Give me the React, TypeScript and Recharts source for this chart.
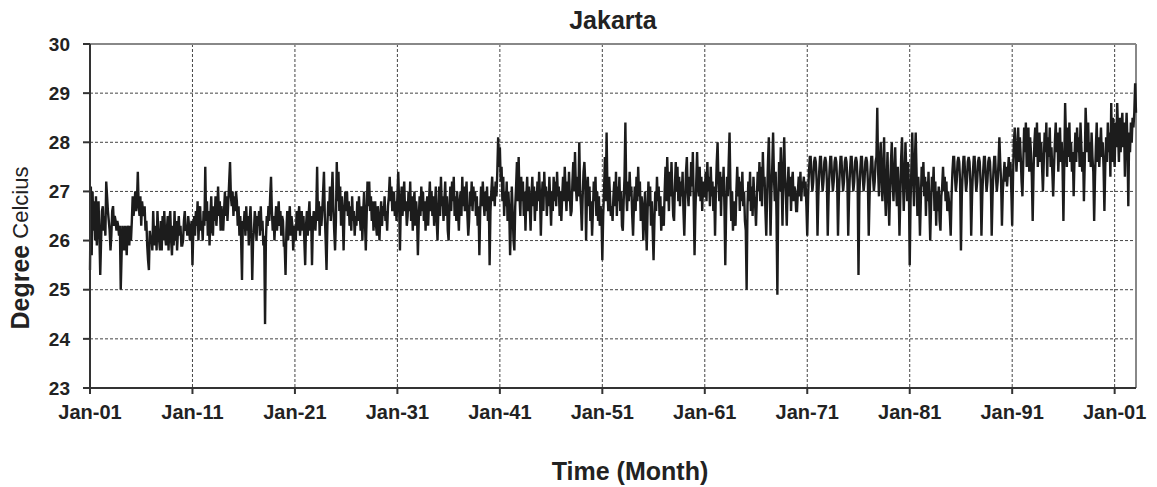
import React from 'react';
import {
  LineChart,
  Line,
  XAxis,
  YAxis,
  CartesianGrid,
  ReferenceLine,
  Label,
} from 'recharts';

// Monthly mean temperature, Jakarta (deg C), one row per year
const temps1901s = [
  25.4, 27.1, 25.7, 27.0, 26.2, 26.8, 26.0, 26.9, 25.9, 26.5, 26.8, 26.1,
  25.3, 26.0, 26.6, 26.7, 26.2, 26.5, 26.1, 27.2, 26.9, 26.6, 26.4, 26.2,
  25.8, 26.1, 26.6, 26.7, 26.3, 26.5, 26.4, 26.2, 26.4, 26.3, 26.1, 26.3,
  25.0, 25.7, 26.3, 26.0, 25.8, 26.3, 26.1, 25.7, 26.3, 26.2, 25.9, 26.3,
  26.0, 26.4, 26.9, 26.5, 26.7, 27.0, 26.6, 26.8, 27.4, 26.7, 26.5, 26.9,
  26.3, 26.8, 26.6, 26.5, 26.7, 26.2, 26.4, 25.9, 25.6, 25.4, 26.2, 26.0,
  26.1, 25.8, 26.6, 26.1, 25.9, 26.3, 25.8, 26.6, 26.2, 26.0, 25.8, 26.4,
  25.8, 26.5, 26.0, 26.6, 26.1, 25.9, 26.2, 26.5, 25.8, 26.4, 26.6, 26.0,
  25.7, 26.3, 25.9, 26.6, 26.0, 26.4, 25.8, 26.2, 26.5, 26.1, 26.3, 25.9,
  25.9, 26.0, 26.4, 26.6, 26.2, 26.3, 26.1, 26.5, 26.3, 26.0, 26.2, 26.4,
];

const temps1911s = [
  25.5, 26.2, 26.5, 26.1, 26.6, 26.3, 26.8, 26.0, 26.5, 26.7, 26.2, 26.4,
  26.0, 26.6, 26.3, 27.5, 26.4, 26.8, 26.1, 26.6, 25.9, 26.5, 26.9, 26.2,
  26.1, 26.7, 26.4, 26.9, 26.3, 26.6, 27.1, 26.5, 26.8, 26.2, 26.7, 26.4,
  26.2, 26.6, 27.0, 26.5, 26.9, 26.4, 26.8, 27.2, 27.6, 26.9, 26.7, 27.0,
  26.5, 26.9, 26.6, 27.0, 26.8, 26.3, 26.7, 26.1, 26.5, 26.0, 25.2, 26.4,
  26.3, 26.6, 26.1, 26.7, 26.2, 26.5, 25.9, 26.4, 26.7, 26.2, 25.2, 26.0,
  26.2, 26.6, 26.4, 26.0, 26.5, 26.3, 26.6, 26.1, 26.7, 26.2, 26.4, 25.9,
  26.1, 24.3, 26.0, 26.5, 26.3, 26.7, 26.4, 26.9, 27.3, 26.6, 26.2, 26.5,
  26.0, 26.4, 26.7, 26.2, 26.5, 26.8, 26.3, 26.6, 26.1, 26.5, 26.4, 25.9,
  25.9, 25.3, 26.2, 26.6, 26.0, 26.4, 26.7, 26.1, 26.5, 26.3, 25.8, 26.2,
];

const temps1921s = [
  26.3, 26.0, 26.6, 26.2, 26.5, 26.7, 26.1, 26.4, 26.6, 26.2, 26.5, 26.0,
  25.5, 26.3, 26.6, 26.1, 26.5, 26.8, 26.2, 26.5, 25.5, 26.3, 26.6, 26.4,
  26.2, 26.6, 27.5, 26.4, 26.8, 26.1, 26.7, 26.3, 26.6, 27.0, 27.4, 26.5,
  26.0, 25.4, 26.3, 26.8, 26.5, 27.1, 26.4, 26.9, 27.4, 26.7, 26.2, 25.8,
  26.4, 27.6, 26.8, 27.4, 26.6, 27.1, 26.3, 26.9, 26.5, 25.8, 26.6, 27.0,
  26.6, 27.0, 26.5, 26.8, 26.3, 26.7, 26.2, 26.9, 26.4, 26.6, 26.1, 26.5,
  26.3, 26.8, 26.4, 26.9, 26.5, 26.2, 26.7, 26.0, 26.6, 27.0, 26.4, 25.8,
  26.5, 27.2, 26.7, 27.2, 26.6, 26.9, 26.4, 26.8, 26.2, 26.6, 26.8, 26.3,
  26.1, 26.7, 26.4, 26.0, 26.5, 26.8, 26.3, 26.7, 26.5, 26.9, 26.4, 26.6,
  26.2, 26.7, 26.9, 27.3, 26.8, 27.1, 26.6, 26.9, 27.0, 26.5, 26.8, 26.4,
];

const temps1931s = [
  26.9, 27.4, 26.8, 25.8, 26.7, 27.1, 26.5, 26.9, 27.2, 26.6, 26.8, 26.3,
  26.5, 27.0, 26.6, 27.2, 26.4, 26.9, 26.2, 26.7, 27.0, 26.3, 26.8, 26.5,
  25.7, 26.4, 26.9, 26.5, 27.1, 26.6, 27.0, 26.4, 26.8, 26.2, 26.7, 26.9,
  26.3, 26.8, 27.2, 26.6, 27.0, 26.5, 26.9, 26.3, 26.7, 27.1, 26.4, 26.0,
  26.6, 27.1, 26.5, 27.3, 26.7, 26.9, 26.4, 26.8, 27.2, 26.5, 26.9, 26.2,
  26.0, 26.7, 27.1, 26.6, 27.2, 26.8, 27.3, 26.5, 26.9, 26.4, 27.0, 26.6,
  26.2, 26.8, 27.0, 26.5, 27.3, 26.7, 27.1, 26.6, 26.9, 27.2, 26.5, 26.1,
  26.4, 27.0, 26.7, 27.2, 26.6, 27.1, 26.8, 27.0, 26.5, 26.9, 26.3, 26.7,
  25.7, 26.6, 27.1, 26.7, 27.2, 26.8, 26.5, 27.0, 26.6, 27.1, 26.4, 26.9,
  25.5, 26.6, 27.0, 27.3, 26.8, 27.1, 26.7, 27.2, 26.9, 27.4, 28.1, 27.5,
];

const temps1941s = [
  27.9, 27.2, 27.5, 26.8, 27.3, 26.5, 27.0, 26.7, 27.2, 26.4, 27.0, 26.6,
  25.7, 26.4, 27.1, 26.6, 26.0, 25.8, 26.7, 27.1, 27.6, 26.8, 27.7, 26.9,
  26.5, 27.3, 26.8, 27.2, 26.5, 27.0, 26.2, 26.9, 27.3, 26.6, 27.1, 26.7,
  26.2, 26.9, 27.3, 26.7, 27.1, 26.4, 27.0, 26.6, 27.2, 26.8, 27.4, 26.9,
  26.1, 26.8, 27.2, 26.6, 27.4, 26.9, 27.1, 26.5, 27.0, 26.7, 27.3, 26.8,
  26.3, 27.0, 26.6, 27.3, 26.8, 27.2, 26.7, 27.4, 26.9, 27.1, 26.5, 27.0,
  26.4, 26.9, 27.3, 26.8, 27.5, 27.0, 26.6, 27.2, 26.8, 27.4, 26.9, 26.5,
  26.6, 27.2, 27.6, 27.0, 27.8, 27.1, 26.8, 27.3, 26.9, 28.0, 27.0, 26.7,
  26.2, 26.9, 27.4, 27.6, 27.2, 26.0, 26.9, 27.3, 26.7, 27.1, 26.4, 26.8,
  26.1, 26.6, 27.2, 26.8, 27.3, 26.5, 27.0, 26.4, 26.9, 26.3, 26.7, 26.5,
];

const temps1951s = [
  25.6, 26.5, 27.0, 27.7, 26.8, 28.2, 27.0, 26.6, 27.3, 26.9, 26.5, 26.7,
  26.4, 26.9, 27.2, 26.7, 27.4, 26.5, 27.1, 26.8, 27.3, 26.6, 27.0, 26.3,
  26.2, 26.8, 27.3, 28.4, 27.0, 26.6, 27.2, 26.8, 27.4, 26.9, 27.1, 26.5,
  26.1, 26.7, 27.1, 26.6, 27.3, 26.8, 27.5, 26.9, 27.2, 26.4, 26.9, 26.7,
  26.0, 26.5, 27.0, 26.4, 25.8, 26.6, 27.2, 26.7, 27.1, 26.3, 26.8, 26.2,
  25.6, 26.4, 27.0, 26.6, 27.3, 26.8, 27.1, 26.5, 26.9, 26.2, 26.7, 26.4,
  26.3, 27.0, 27.5, 26.8, 27.7, 27.1, 26.6, 27.4, 26.9, 27.6, 27.0, 26.5,
  26.4, 27.1, 27.6, 27.0, 27.5, 26.8, 27.3, 26.7, 27.2, 26.9, 27.4, 26.6,
  26.1, 26.8, 27.4, 27.7, 27.0, 26.7, 27.3, 26.9, 27.6, 27.1, 27.8, 26.8,
  25.7, 26.6, 27.2, 27.8, 27.1, 26.9, 27.5, 26.8, 27.3, 26.6, 27.2, 26.9,
];

const temps1961s = [
  26.9, 27.4, 26.8, 27.6, 27.0, 27.3, 26.7, 27.5, 26.9, 27.2, 26.6, 27.1,
  26.1, 27.0, 27.6, 28.0, 27.2, 26.8, 27.4, 26.5, 27.3, 26.9, 27.5, 26.7,
  25.5, 26.6, 27.3, 26.9, 27.6, 28.2, 27.1, 26.4, 27.0, 26.2, 26.8, 26.5,
  26.3, 27.0, 27.5, 26.9, 27.3, 26.6, 27.2, 26.8, 27.4, 26.7, 27.0, 26.4,
  26.2, 25.0, 26.7, 27.2, 26.8, 27.4, 26.6, 27.1, 26.5, 27.3, 26.9, 26.7,
  26.3, 26.9, 27.4, 27.0, 27.6, 26.8, 27.5, 26.7, 27.8, 27.1, 27.3, 26.6,
  26.1, 26.9, 27.6, 28.1, 27.2, 26.1, 27.0, 27.5, 28.2, 27.3, 26.8, 27.4,
  26.5, 24.9, 26.8, 27.6, 27.0, 27.9, 27.2, 26.3, 27.4, 28.1, 27.3, 26.9,
  26.3, 27.1, 27.5, 26.9, 27.3, 26.6, 27.2, 27.4, 26.8, 27.1, 27.0, 26.6,
  26.6, 27.0, 27.3, 26.9, 27.4, 26.8, 27.2, 27.1, 27.3, 26.9, 27.2, 26.7,
];

const temps1971s = [
  26.1, 26.9, 27.4, 27.7, 27.7, 27.3, 27.0, 27.2, 27.6, 27.7, 27.6, 27.2,
  26.1, 26.9, 27.4, 27.7, 27.7, 27.3, 27.0, 27.2, 27.6, 27.7, 27.6, 27.2,
  26.1, 26.9, 27.4, 27.7, 27.7, 27.3, 27.0, 27.2, 27.6, 27.7, 27.6, 27.2,
  26.1, 26.9, 27.4, 27.7, 27.7, 27.3, 27.0, 27.2, 27.6, 27.7, 27.6, 27.2,
  26.1, 26.9, 27.4, 27.7, 27.7, 27.3, 27.0, 27.2, 27.6, 27.7, 27.6, 27.2,
  25.3, 26.9, 27.4, 27.7, 27.7, 27.3, 27.0, 27.2, 27.6, 27.7, 27.6, 27.2,
  26.1, 26.9, 27.4, 27.7, 27.7, 27.3, 27.0, 27.2, 27.6, 27.7, 28.7, 27.4,
  26.9, 27.6, 28.0, 27.3, 26.8, 27.5, 28.1, 27.0, 26.5, 27.2, 27.8, 26.9,
  26.3, 27.0, 27.6, 28.0, 27.2, 26.8, 27.4, 27.9, 27.1, 26.7, 27.5, 27.0,
  26.1, 26.9, 27.7, 28.1, 27.3, 26.6, 27.2, 28.0, 27.4, 26.8, 27.6, 27.1,
];

const temps1981s = [
  25.5, 26.8, 27.5, 28.2, 27.3, 26.7, 27.6, 28.2, 27.4, 26.5, 27.3, 26.9,
  26.1, 26.8, 27.5, 27.1, 27.6, 26.9, 27.3, 26.5, 27.2, 26.8, 27.4, 26.7,
  26.0, 26.7, 27.3, 27.0, 27.5, 26.6, 27.2, 26.3, 27.0, 26.6, 27.1, 26.4,
  26.2, 26.9, 27.1, 27.5, 27.0, 27.3, 26.8, 27.2, 26.6, 27.0, 26.8, 26.5,
  26.1, 26.9, 27.4, 27.7, 27.7, 27.3, 27.0, 27.2, 27.6, 27.7, 27.6, 27.2,
  25.8, 26.9, 27.4, 27.7, 27.7, 27.3, 27.0, 27.2, 27.6, 27.7, 27.6, 27.2,
  26.1, 26.9, 27.4, 27.7, 27.7, 27.3, 27.0, 27.2, 27.6, 27.7, 27.6, 27.2,
  26.1, 26.9, 27.4, 27.7, 27.7, 27.3, 27.0, 27.2, 27.6, 27.7, 27.6, 27.2,
  26.1, 26.9, 27.4, 27.7, 27.7, 27.3, 27.0, 27.2, 27.6, 28.1, 27.6, 27.2,
  26.3, 27.0, 27.3, 27.6, 27.2, 27.5, 27.1, 27.4, 27.7, 27.3, 27.6, 27.0,
];

const temps1991s = [
  26.3, 27.3, 28.0, 28.3, 27.9, 27.4, 27.8, 28.3, 27.6, 28.1, 27.7, 27.2,
  26.9, 27.6, 28.3, 27.8, 28.4, 27.5, 27.9, 28.3, 27.4, 28.1, 27.8, 27.3,
  26.4, 27.4, 28.0, 28.3, 27.7, 28.4, 27.5, 27.9, 28.2, 27.6, 28.0, 27.5,
  27.0, 27.6, 28.2, 27.8, 28.4, 27.3, 28.1, 27.7, 28.3, 27.5, 27.9, 27.4,
  26.9, 27.5, 28.0, 28.4, 27.8, 28.2, 27.4, 27.9, 28.3, 27.6, 28.0, 27.5,
  26.4, 27.6, 28.8, 28.1, 27.5, 28.3, 27.7, 28.4, 27.6, 28.0, 27.4, 27.8,
  26.9, 27.7, 28.2, 27.6, 28.3, 27.8, 28.1, 27.5, 28.4, 27.9, 27.4, 27.8,
  26.8, 27.6, 28.7, 28.2, 27.8, 28.4, 27.6, 28.0, 27.5, 28.2, 27.7, 27.4,
  26.4, 27.3, 27.9, 28.4, 27.6, 28.1, 27.5, 27.9, 28.3, 27.7, 28.0, 27.5,
  26.6, 27.5, 28.1, 27.6, 28.4, 27.8, 28.2, 27.3, 28.8, 27.6, 28.5, 27.9,
];

const temps2001s = [
  27.5, 28.4, 27.9, 28.8, 28.2, 27.6, 28.5, 27.8, 28.3, 28.6, 27.9, 28.4,
  27.3, 28.1, 28.6, 28.0, 26.7, 28.2, 27.8, 28.4, 28.0, 28.5, 28.3, 28.6,
  29.2, 28.6,
];

const xTicks = [0, 120, 240, 360, 480, 600, 720, 840, 960, 1080, 1200];
const xTickLabels = [
  'Jan-01', 'Jan-11', 'Jan-21', 'Jan-31', 'Jan-41', 'Jan-51',
  'Jan-61', 'Jan-71', 'Jan-81', 'Jan-91', 'Jan-01',
];
const yTicks = [23, 24, 25, 26, 27, 28, 29, 30];

const allTemps = [
  ...temps1901s, ...temps1911s, ...temps1921s, ...temps1931s, ...temps1941s,
  ...temps1951s, ...temps1961s, ...temps1971s, ...temps1981s, ...temps1991s,
  ...temps2001s,
];
const data = allTemps.map((t, i) => ({ month: i, temp: t }));
const lastMonth = allTemps.length - 1;

const FONT = '"Liberation Sans", Arial, sans-serif';

function YTitle() {
  const cx = 20;
  const cy = 248;
  return (
    <text
      x={cx}
      y={cy}
      transform={`rotate(-90, ${cx}, ${cy})`}
      textAnchor="middle"
      dominantBaseline="central"
      fill="#222"
      fontFamily={FONT}
    >
      <tspan fontWeight="bold" fontSize={25}>Degree</tspan>
      <tspan fontSize={22}> Celcius</tspan>
    </text>
  );
}

function XTitle() {
  return (
    <text x={630} y={471} textAnchor="middle" dominantBaseline="central"
      fill="#222" fontFamily={FONT} fontWeight="bold" fontSize={25}>
      Time (Month)
    </text>
  );
}

export default function App() {
  return (
    <div style={{ position: 'absolute', left: 0, top: 0, width: 1157, height: 487, background: '#fff' }}>
      <div style={{
        position: 'absolute', left: 90, width: 1046, top: 5, textAlign: 'center',
        fontFamily: FONT, fontWeight: 'bold', fontSize: 25, lineHeight: '30px', color: '#222',
      }}>
        Jakarta
      </div>
      <LineChart width={1157} height={487} data={data}
        margin={{ top: 44, right: 21, bottom: 69, left: 30 }}>
        <CartesianGrid stroke="#444" strokeDasharray="3 2" strokeWidth={1} />
        <XAxis
          dataKey="month"
          type="number"
          domain={[0, lastMonth]}
          ticks={xTicks}
          tickFormatter={(v: number) => xTickLabels[xTicks.indexOf(v)]}
          height={30}
          tickSize={6}
          tickMargin={11}
          stroke="#333"
          strokeWidth={2}
          tick={{ fill: '#222', fontSize: 20, fontWeight: 'bold', fontFamily: FONT }}
          label={<Label content={XTitle} />}
        />
        <YAxis
          type="number"
          domain={[23, 30]}
          ticks={yTicks}
          width={60}
          tickSize={7}
          tickMargin={13}
          stroke="#333"
          strokeWidth={2}
          tick={{ fill: '#222', fontSize: 19, fontWeight: 'bold', fontFamily: FONT }}
          label={<Label content={YTitle} />}
        />
        <ReferenceLine y={30} stroke="#888" strokeWidth={2} />
        <ReferenceLine x={lastMonth} stroke="#888" strokeWidth={2} />
        <Line
          type="linear"
          dataKey="temp"
          stroke="#1c1c1c"
          strokeWidth={2.4}
          dot={false}
          isAnimationActive={false}
        />
      </LineChart>
    </div>
  );
}
